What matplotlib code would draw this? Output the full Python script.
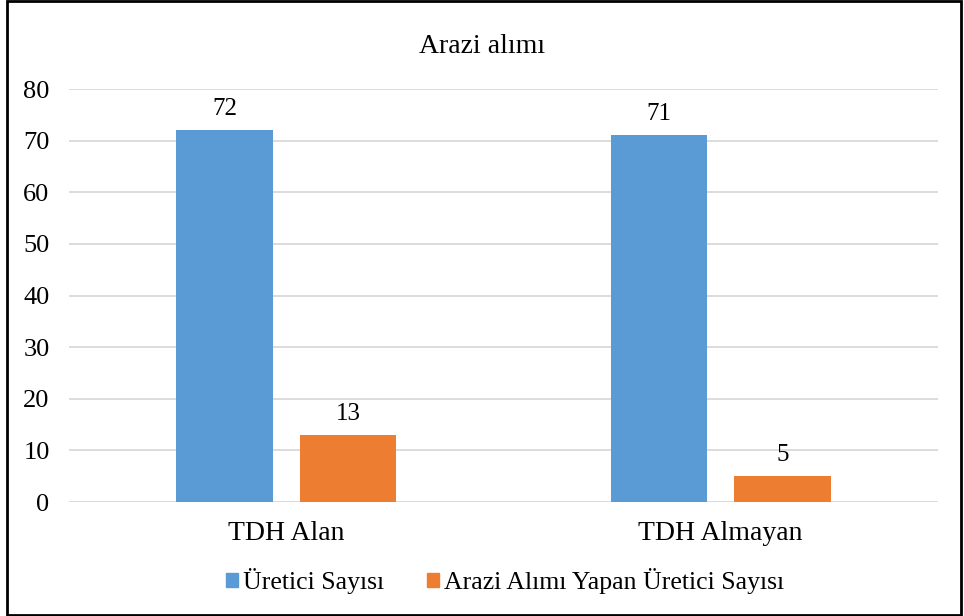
import matplotlib.pyplot as plt
import matplotlib.patches as mpatches
import numpy as np

categories = ['TDH Alan', 'TDH Almayan']
ureticiler = [72, 71]
arazi_alimi = [13, 5]
series_names = ['Üretici Sayısı', 'Arazi Alımı Yapan Üretici Sayısı']
yticks = [0, 10, 20, 30, 40, 50, 60, 70, 80]

plt.rcParams['font.family'] = ['Liberation Serif', 'DejaVu Serif']

fig = plt.figure(figsize=(9.64, 6.16), dpi=100)
ax = fig.add_axes([0.0716, 0.185, 0.9014, 0.6705])

x = np.arange(len(categories))
w = 0.223
off = 0.142
b1 = ax.bar(x - off, ureticiler, w, color='#5b9bd5', label=series_names[0], zorder=3)
b2 = ax.bar(x + off, arazi_alimi, w, color='#ed7d31', label=series_names[1], zorder=3)
for bars, vals in [(b1, ureticiler), (b2, arazi_alimi)]:
    for b, v in zip(bars, vals):
        ax.text(b.get_x() + b.get_width() / 2, v + 4.1, str(v), ha='center', va='center', fontsize=18)

ax.set_xlim(-0.5, 1.5)
ax.set_ylim(0, 80)
ax.set_yticks(yticks)
ax.set_xticks(x)
ax.set_xticklabels(categories)
ax.tick_params(axis='both', length=0, labelsize=19)
ax.tick_params(axis='y', pad=14)
ax.tick_params(axis='x', pad=14)
for lab in ax.get_xticklabels():
    lab.set_fontsize(20)
ax.grid(axis='y', color='#d9d9d9', linewidth=1.3, zorder=0)
for s in ax.spines.values():
    s.set_visible(False)

fig.text(0.5, 0.925, 'Arazi alımı', ha='center', va='center', fontsize=20)

handles = [mpatches.Patch(color='#5b9bd5'), mpatches.Patch(color='#ed7d31')]
fig.legend(handles, series_names, loc='center', bbox_to_anchor=(0.524, 0.057), ncol=2,
           frameon=False, fontsize=18.5, handlelength=0.45, handleheight=0.45,
           handletextpad=0.2, columnspacing=1.7)

fig.patches.append(mpatches.Rectangle((0.007, 0.002), 0.99, 0.996, transform=fig.transFigure,
                                      fill=False, edgecolor='black', linewidth=2))

fig.savefig('out.png', dpi=100)
